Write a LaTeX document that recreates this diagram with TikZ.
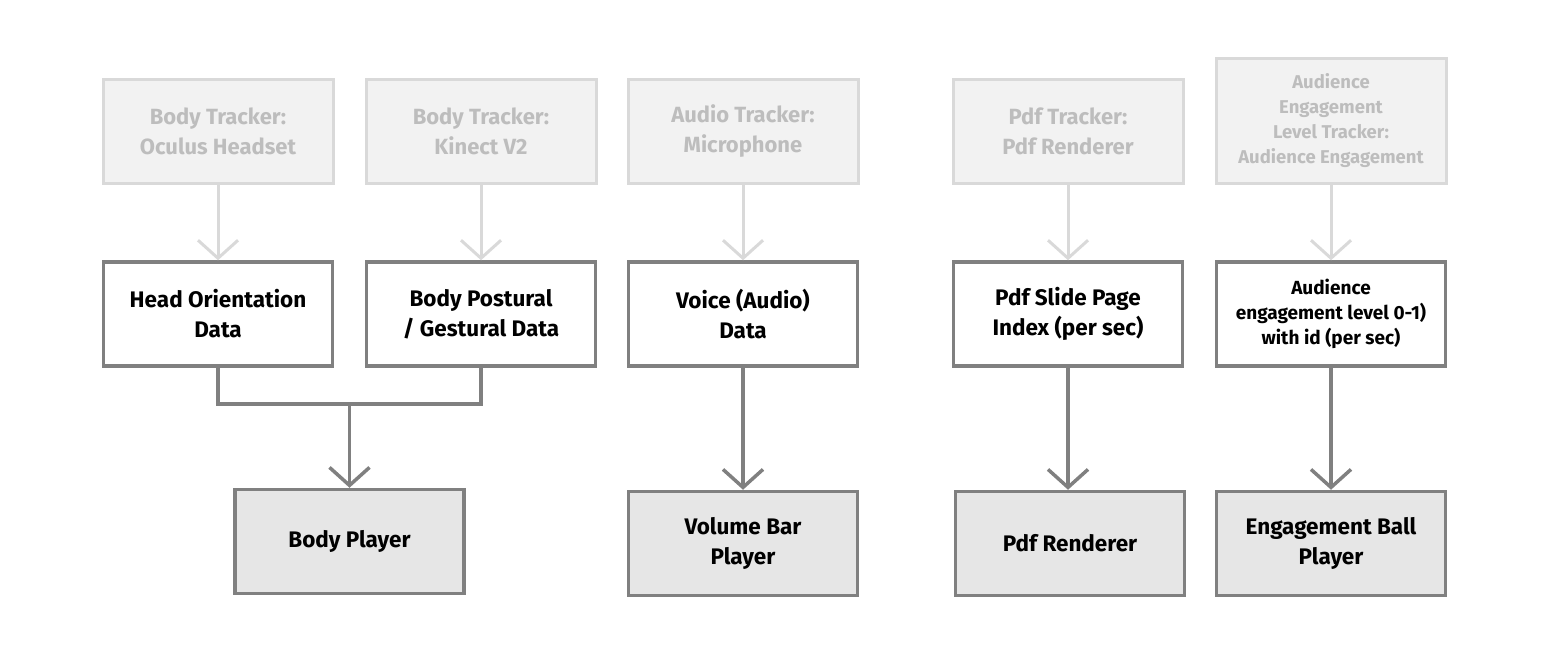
\documentclass[tikz,border=0pt]{standalone}
\usepackage{fontspec}
\setmainfont{Fira Sans}
\usetikzlibrary{arrows.meta}
\definecolor{trackline}{HTML}{D9D9D9}
\definecolor{trackfill}{HTML}{F2F2F2}
\definecolor{tracktext}{HTML}{BDBDBD}
\definecolor{dataline}{HTML}{808080}
\definecolor{playerfill}{HTML}{E6E6E6}
\begin{document}
\begin{tikzpicture}[x=1pt, y=-1pt,
	tracker/.style={draw=trackline, fill=trackfill, line width=3pt, minimum width=230pt, minimum height=104pt, align=center, text=tracktext, font=\fontsize{22}{30}\selectfont\bfseries},
	data/.style={draw=dataline, fill=white, line width=3.5pt, minimum width=229pt, minimum height=104pt, align=center, font=\fontsize{22.5}{30}\selectfont\bfseries},
	player/.style={data, fill=playerfill},
	feed/.style={draw=trackline, line width=3pt, -{Straight Barb[length=18pt, width=40pt, line width=3pt]}},
	flow/.style={draw=dataline, line width=3.5pt, -{Straight Barb[length=18pt, width=40pt, line width=3.5pt]}}]
	\useasboundingbox (0,0) rectangle (1552,656);
	% Trackers
	\node[tracker] (T1) at (218,131) {Body Tracker:\\Oculus Headset};
	\node[tracker] (T2) at (481,131) {Body Tracker:\\Kinect V2};
	\node[tracker] (T3) at (743,131) {Audio Tracker:\\Microphone};
	\node[tracker] (T4) at (1068,131) {Pdf Tracker:\\Pdf Renderer};
	\node[tracker, minimum height=125pt, font=\fontsize{18.5}{25}\selectfont\bfseries] (T5) at (1331,120.5) {Audience\\Engagement\\Level Tracker:\\Audience Engagement};
	% Data
	\node[data] (M1) at (218,314) {Head Orientation\\Data};
	\node[data] (M2) at (481,314) {Body Postural\\/ Gestural Data};
	\node[data] (M3) at (743,314) {Voice (Audio)\\Data};
	\node[data] (M4) at (1068,314) {Pdf Slide Page\\Index (per sec)};
	\node[data, font=\fontsize{19}{25}\selectfont\bfseries] (M5) at (1331,314) {Audience\\engagement level 0-1)\\with id (per sec)};
	% Players
	\node[player] (P1) at (349.5,541.5) {Body Player};
	\node[player] (P2) at (743,543.5) {Volume Bar\\Player};
	\node[player] (P3) at (1070,543.5) {Pdf Renderer};
	\node[player] (P4) at (1331,543.5) {Engagement Ball\\Player};
	\coordinate (J) at (349.5,404);
	% Fleches
	\draw[feed] (T1) -- (M1);
	\draw[feed] (T2) -- (M2);
	\draw[feed] (T3) -- (M3);
	\draw[feed] (T4) -- (M4);
	\draw[feed] (T5) -- (M5);
	\draw[draw=dataline, line width=3.5pt] (M1.south) |- (J) -| (M2.south);
	\draw[flow] (J) -- (P1);
	\draw[flow] (M3) -- (P2);
	\draw[flow] (M4.south) -- (M4.south |- P3.north);
	\draw[flow] (M5) -- (P4);
\end{tikzpicture}
\end{document}
